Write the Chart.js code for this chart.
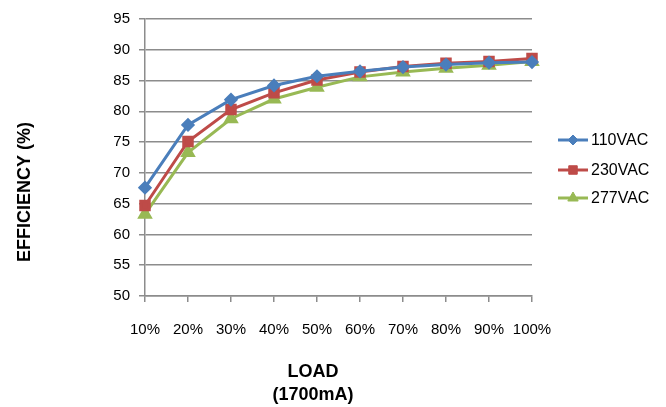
<!DOCTYPE html>
<html>
<head>
<meta charset="utf-8">
<script src="https://cdn.jsdelivr.net/npm/chart.js@4"></script>
<style>
  html, body { margin: 0; padding: 0; background: #fff; }
  #wrap { width: 666px; height: 407px; }
</style>
</head>
<body>
<div id="wrap"><canvas id="effChart" width="666" height="407"></canvas></div>
<script>
// Data
const loads = ["10%", "20%", "30%", "40%", "50%", "60%", "70%", "80%", "90%", "100%"];
const vac110 = [67.6, 77.8, 81.9, 84.2, 85.7, 86.5, 87.2, 87.6, 87.9, 88.0];
const vac230 = [64.7, 75.1, 80.3, 83.0, 85.1, 86.4, 87.3, 87.8, 88.1, 88.6];
const vac277 = [63.3, 73.3, 78.8, 82.0, 83.9, 85.6, 86.4, 87.0, 87.5, 88.1];
const yTicks = [50, 55, 60, 65, 70, 75, 80, 85, 90, 95];

const font = "'Liberation Sans', Arial, sans-serif";
const gridGray = "#8c8c8c";

// Axis titles sit a bit off-centre in the original, so draw them by hand
const axisTitles = {
    id: "axisTitles",
    afterDraw(chart) {
        const ctx = chart.ctx;
        ctx.save();
        ctx.fillStyle = "#000";
        ctx.font = "bold 18px " + font;
        ctx.textAlign = "center";
        ctx.textBaseline = "middle";
        ctx.fillText("LOAD", 313, 372);
        ctx.fillText("(1700mA)", 313, 395);
        ctx.translate(25, 192);
        ctx.rotate(-Math.PI / 2);
        ctx.fillText("EFFICIENCY (%)", 0, 0);
        ctx.restore();
    }
};

// Legend: line with marker, drawn to the right of the plot
const sideLegend = {
    id: "sideLegend",
    afterDraw(chart) {
        const ctx = chart.ctx;
        const x0 = 558, rowY = [140, 170, 198];
        chart.data.datasets.forEach((ds, i) => {
            const y = rowY[i];
            ctx.save();
            ctx.strokeStyle = ds.borderColor;
            ctx.fillStyle = ds.borderColor;
            ctx.lineWidth = 3;
            ctx.beginPath();
            ctx.moveTo(x0, y);
            ctx.lineTo(x0 + 30, y);
            ctx.stroke();
            ctx.lineWidth = 1;
            Chart.helpers.drawPoint(ctx, {
                pointStyle: ds.pointStyle,
                radius: ds.pointRadius,
                borderWidth: 1
            }, x0 + 15, y);
            ctx.fillStyle = "#000";
            ctx.font = "16px " + font;
            ctx.textBaseline = "middle";
            ctx.fillText(ds.label, x0 + 33, y + 1);
            ctx.restore();
        });
    }
};

function series(label, data, color, style, r) {
    return {
        label: label,
        data: data,
        borderColor: color,
        backgroundColor: color,
        pointBackgroundColor: color,
        pointBorderColor: color,
        borderWidth: 3,
        pointStyle: style,
        pointRadius: r,
        tension: 0
    };
}

new Chart(document.getElementById("effChart"), {
    type: "line",
    data: {
        labels: loads,
        datasets: [
            series("110VAC", vac110, "#4a7ebb", "rectRot", 5),
            series("230VAC", vac230, "#be4b48", "rect", 6),
            series("277VAC", vac277, "#98b954", "triangle", 6)
        ]
    },
    options: {
        responsive: false,
        animation: false,
        layout: { padding: { top: 19, right: 134, left: 0, bottom: 0 } },
        plugins: {
            legend: { display: false },
            tooltip: { enabled: false }
        },
        scales: {
            x: {
                offset: false,
                grid: { drawOnChartArea: false, drawTicks: true, tickLength: 6, color: gridGray, lineWidth: 1.5 },
                border: { color: gridGray, width: 1.5 },
                ticks: { color: "#000", font: { family: font, size: 15 }, padding: 19, maxRotation: 0 },
                afterFit(scale) { scale.height = 111; }
            },
            y: {
                min: 50,
                max: 95,
                afterBuildTicks(scale) { scale.ticks = yTicks.map(v => ({ value: v })); },
                grid: { color: gridGray, lineWidth: 1.5, tickLength: 6 },
                border: { color: gridGray, width: 1.5 },
                ticks: { color: "#000", font: { family: font, size: 15 }, padding: 9 },
                afterFit(scale) { scale.width = 145; }
            }
        }
    },
    plugins: [axisTitles, sideLegend]
});
</script>
</body>
</html>
